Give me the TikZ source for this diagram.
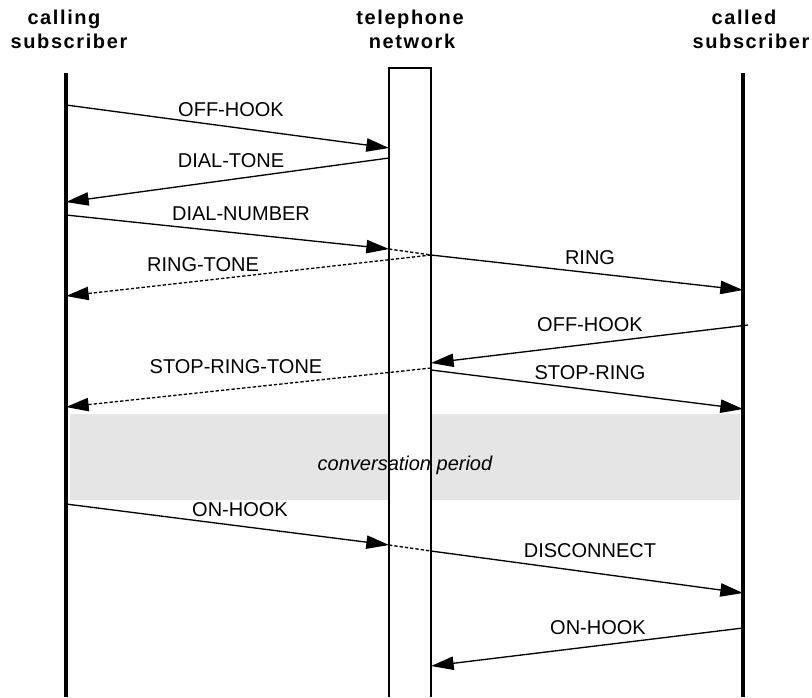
\documentclass[tikz,border=0pt]{standalone}
\usepackage{fontspec}
\setmainfont{Liberation Sans}
\newfontfamily\hdrfont[LetterSpace=8]{Liberation Sans}
\usetikzlibrary{arrows.meta}
\begin{document}
\begin{tikzpicture}[x=0.75pt,y=-0.75pt,
  lifeline/.style={line width=3pt},
  msg/.style={line width=1pt,-{Triangle[length=17pt,width=10pt]}},
  dmsg/.style={line width=1pt,dash pattern=on 2.5pt off 1.5pt,-{Triangle[length=17pt,width=10pt]}},
  dplain/.style={line width=1pt,dash pattern=on 2.5pt off 1.5pt},
  lbl/.style={font=\fontsize{15pt}{18pt}\selectfont,anchor=base,inner sep=0pt},
  hdr/.style={font=\hdrfont\bfseries\fontsize{15pt}{18pt}\selectfont,anchor=base,inner sep=0pt}]
\useasboundingbox (0,0) rectangle (812,697);
% headers
\node[hdr] (h1a) at (64,24) {calling};
\node[hdr] (h1b) at (69,48) {subscriber};
\node[hdr] (h2a) at (410,24) {telephone};
\node[hdr] (h2b) at (412,48) {network};
\node[hdr] (h3a) at (744,24) {called};
\node[hdr] (h3b) at (751,48) {subscriber};
% conversation band
\fill[gray!20] (70,414) rectangle (740,500);
% network box
\draw[line width=1.1pt,fill=white] (389,697) -- (389,68) -- (431,68) -- (431,697);
% lifelines
\coordinate (Ltop) at (66,73); \coordinate (Lbot) at (66,697);
\coordinate (Rtop) at (743,73); \coordinate (Rbot) at (743,697);
\draw[lifeline] (Ltop) -- (Lbot);
\draw[lifeline] (Rtop) -- (Rbot);
\node[lbl,font=\itshape\fontsize{15pt}{18pt}\selectfont] (conv) at (405,470) {conversation period};
% endpoints
\coordinate (a1) at (66,105);  \coordinate (b1) at (389,148);
\coordinate (a2) at (389,158); \coordinate (b2) at (66,202);
\coordinate (a3) at (66,215); \coordinate (b3) at (389,249);
\coordinate (c3) at (431,255); \coordinate (d3) at (743,290);
\coordinate (b4) at (66,296);
\coordinate (a5) at (748,325); \coordinate (b5) at (431,363);
\coordinate (a6) at (431,368); \coordinate (b6) at (66,407);
\coordinate (a7) at (431,370); \coordinate (b7) at (743,409);
\coordinate (a9) at (66,504); \coordinate (b9) at (389,545);
\coordinate (c9) at (431,551); \coordinate (d9) at (743,593);
\coordinate (a11) at (743,628); \coordinate (b11) at (431,666);
% messages
\draw[msg] (a1) -- (b1);
\draw[msg] (a2) -- (b2);
\draw[msg] (a3) -- (b3);
\draw[dplain] (b3) -- (c3);
\draw[msg] (c3) -- (d3);
\draw[dmsg] (c3) -- (b4);
\draw[msg] (a5) -- (b5);
\draw[dmsg] (a6) -- (b6);
\draw[msg] (a7) -- (b7);
\draw[msg] (a9) -- (b9);
\draw[dplain] (b9) -- (c9);
\draw[msg] (c9) -- (d9);
\draw[msg] (a11) -- (b11);
% labels
\node[lbl] (l1) at (231,116) {OFF-HOOK};
\node[lbl] (l2) at (231,167) {DIAL-TONE};
\node[lbl] (l3) at (241,220) {DIAL-NUMBER};
\node[lbl] (l4) at (203,271) {RING-TONE};
\node[lbl] (l5) at (590,264) {RING};
\node[lbl] (l6) at (590,331) {OFF-HOOK};
\node[lbl] (l7) at (236,373) {STOP-RING-TONE};
\node[lbl] (l8) at (590,379) {STOP-RING};
\node[lbl] (l9) at (240,516) {ON-HOOK};
\node[lbl] (l10) at (590,557) {DISCONNECT};
\node[lbl] (l11) at (598,634) {ON-HOOK};
\end{tikzpicture}
\end{document}
